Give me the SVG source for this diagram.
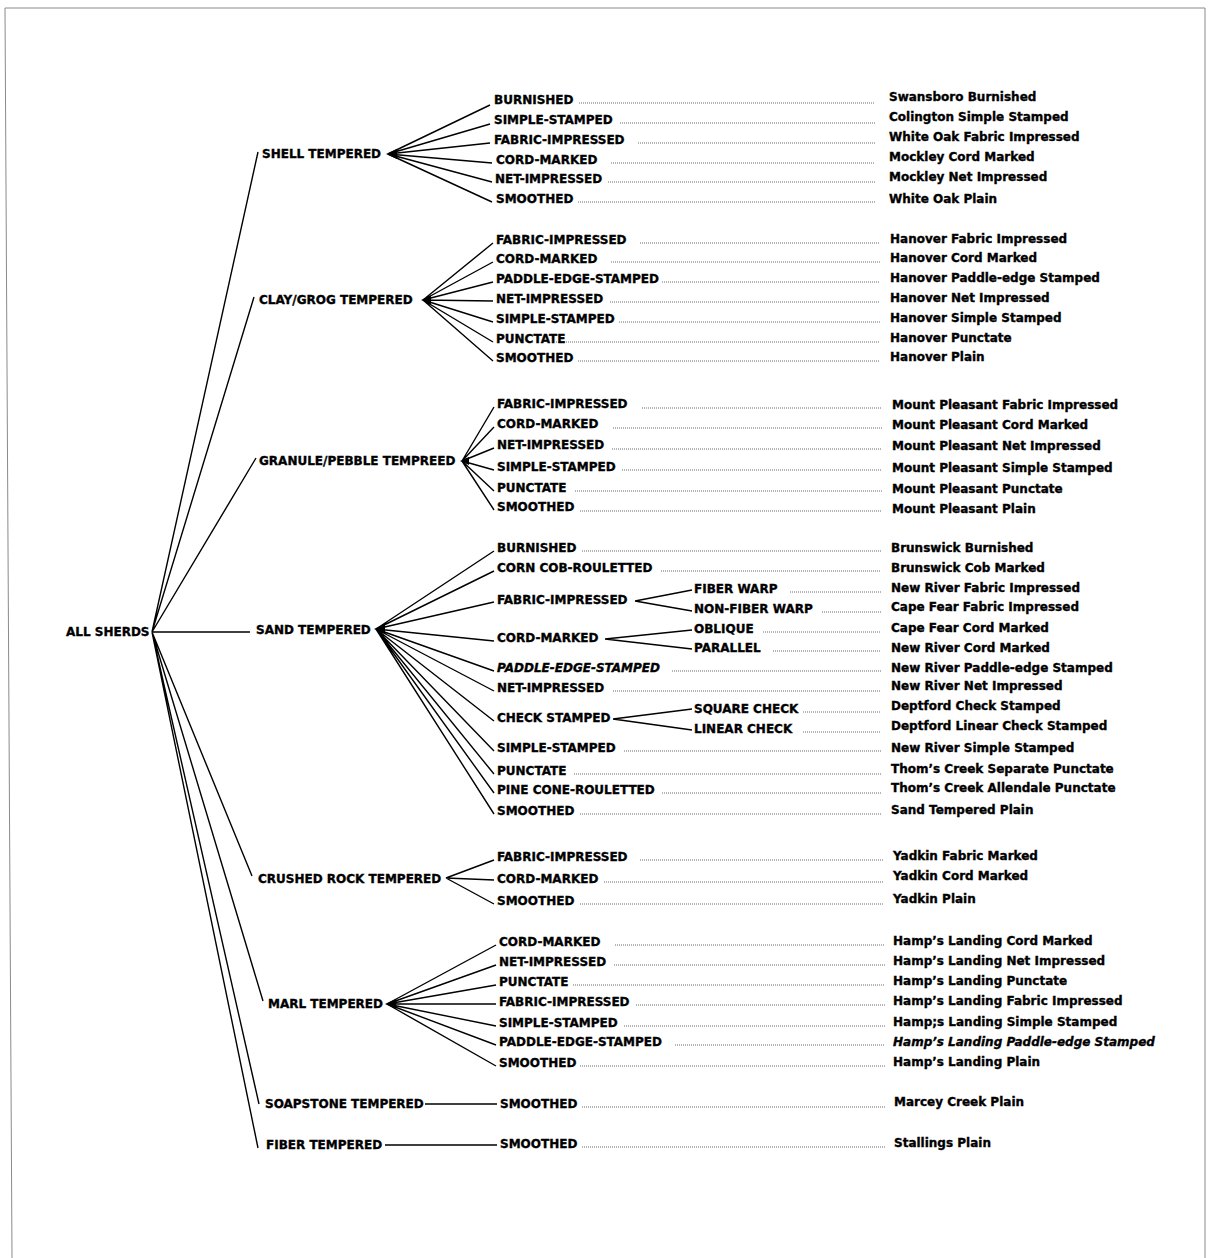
<svg xmlns="http://www.w3.org/2000/svg" width="1209" height="1258" viewBox="0 0 1209 1258">
<style>
text{font-family:"DejaVu Sans","Verdana",sans-serif;font-weight:bold;font-size:12px;fill:#000;stroke:#000;stroke-width:0.35}
.it{font-style:italic}
.ln{stroke:#000;stroke-width:1.4;fill:none}
.dot{stroke:#444;stroke-width:0.8;stroke-dasharray:1 1;fill:none}
.hub{fill:#000}
.frame{stroke:#8a8a8a;stroke-width:1;fill:none}
</style>
<rect width="1209" height="1258" fill="#fff"/>
<g id="frame">
<path class="frame" d="M5,8 L1205,8 M5,8 L12,1258 M1205,8 L1205,1258"/>
</g>
<g id="connectors">
<path class="ln" d="M152,632 L258,152 M152,632 L254,297 M152,632 L256,458 M152,632 L250,632 M152,632 L252,876 M152,632 L263,1001 M152,632 L259,1104 M152,632 L258,1148"/>
<path class="ln" d="M388,154 L490,105 M388,154 L490,124 M388,154 L490,143 M388,154 L492,163 M388,154 L492,182 M388,154 L492,202"/>
<path class="ln" d="M423,300 L493,243 M423,300 L493,262 M423,300 L493,282 M423,300 L493,301 M423,300 L493,322 M423,300 L493,342 M423,300 L493,361"/>
<path class="ln" d="M462,461 L494,407 M462,461 L494,427 M462,461 L494,448 M462,461 L494,470 M462,461 L494,491 M462,461 L494,510"/>
<path class="ln" d="M376,629 L494,551 M376,629 L494,571 M376,629 L494,602 M376,629 L494,641 M376,629 L494,671 M376,629 L494,691 M376,629 L494,721 M376,629 L494,751 M376,629 L494,774 M376,629 L494,793 M376,629 L494,814"/>
<path class="ln" d="M635,601 L692,590 M635,601 L692,611 M605,639 L692,630 M605,639 L692,649 M613,719 L692,709 M613,719 L692,730"/>
<path class="ln" d="M446,878 L494,860 M446,878 L494,880 M446,878 L494,904"/>
<path class="ln" d="M387,1004 L496,945 M387,1004 L496,965 M387,1004 L496,985 M387,1004 L496,1004 M387,1004 L496,1026 M387,1004 L496,1045 M387,1004 L496,1066"/>
<path class="ln" d="M425,1104 L497,1104 M385,1145 L497,1145"/>
<polygon class="hub" points="386,154 397,149 397,159"/>
<polygon class="hub" points="421,300 431,295.5 431,304.5"/>
<polygon class="hub" points="460,461 469,457 469,465"/>
<polygon class="hub" points="374,629 385,624 385,634"/>
<polygon class="hub" points="385,1004 396,999 396,1009"/>
<g id="leaders">
<path class="dot" d="M579,103 H875 M620,123 H875 M638,143 H875 M611,163 H875 M608,182 H875 M578,202 H875"/>
<path class="dot" d="M640,243 H880 M611,262 H880 M662,282 H880 M610,302 H880 M619,322 H880 M556,342 H880 M578,361 H880"/>
<path class="dot" d="M642,408 H882 M613,428 H882 M612,449 H882 M622,470 H882 M575,491 H882 M580,511 H882"/>
<path class="dot" d="M582,551 H881 M661,571 H881 M790,592 H881 M822,612 H881 M763,632 H881 M773,651 H881 M672,671 H881 M613,691 H881 M803,712 H881 M803,732 H881 M624,751 H881 M574,774 H881 M662,793 H881 M580,814 H881"/>
<path class="dot" d="M640,860 H883 M604,882 H883 M580,904 H883"/>
<path class="dot" d="M615,945 H885 M614,965 H885 M573,985 H885 M636,1005 H885 M624,1026 H885 M675,1045 H885 M580,1066 H885"/>
<path class="dot" d="M582,1107 H885 M582,1147 H885"/>
</g>
</g>
<g id="n-all"><text x="66" y="636">ALL SHERDS</text></g>
<g id="n-shell"><text x="262" y="158">SHELL TEMPERED</text></g>
<g id="n-clay"><text x="259" y="304">CLAY/GROG TEMPERED</text></g>
<g id="n-granule"><text x="259" y="465">GRANULE/PEBBLE TEMPREED</text></g>
<g id="n-sand"><text x="256" y="634">SAND TEMPERED</text></g>
<g id="n-crushed"><text x="258" y="883">CRUSHED ROCK TEMPERED</text></g>
<g id="n-marl"><text x="268" y="1008">MARL TEMPERED</text></g>
<g id="n-soapstone"><text x="265" y="1108">SOAPSTONE TEMPERED</text></g>
<g id="n-fiber"><text x="266" y="1149">FIBER TEMPERED</text></g>
<g id="shell-types">
<text x="494" y="104">BURNISHED</text>
<text x="494" y="124">SIMPLE-STAMPED</text>
<text x="494" y="144">FABRIC-IMPRESSED</text>
<text x="496" y="164">CORD-MARKED</text>
<text x="495" y="183">NET-IMPRESSED</text>
<text x="496" y="203">SMOOTHED</text>
</g>
<g id="shell-names">
<text x="889" y="101">Swansboro Burnished</text>
<text x="889" y="121">Colington Simple Stamped</text>
<text x="889" y="141">White Oak Fabric Impressed</text>
<text x="889" y="161">Mockley Cord Marked</text>
<text x="889" y="181">Mockley Net Impressed</text>
<text x="889" y="203">White Oak Plain</text>
</g>
<g id="clay-types">
<text x="496" y="244">FABRIC-IMPRESSED</text>
<text x="496" y="263">CORD-MARKED</text>
<text x="496" y="283">PADDLE-EDGE-STAMPED</text>
<text x="496" y="303">NET-IMPRESSED</text>
<text x="496" y="323">SIMPLE-STAMPED</text>
<text x="496" y="343">PUNCTATE</text>
<text x="496" y="362">SMOOTHED</text>
</g>
<g id="clay-names">
<text x="890" y="243">Hanover Fabric Impressed</text>
<text x="890" y="262">Hanover Cord Marked</text>
<text x="890" y="282">Hanover Paddle-edge Stamped</text>
<text x="890" y="302">Hanover Net Impressed</text>
<text x="890" y="322">Hanover Simple Stamped</text>
<text x="890" y="342">Hanover Punctate</text>
<text x="890" y="361">Hanover Plain</text>
</g>
<g id="granule-types">
<text x="497" y="408">FABRIC-IMPRESSED</text>
<text x="497" y="428">CORD-MARKED</text>
<text x="497" y="449">NET-IMPRESSED</text>
<text x="497" y="471">SIMPLE-STAMPED</text>
<text x="497" y="492">PUNCTATE</text>
<text x="497" y="511">SMOOTHED</text>
</g>
<g id="granule-names">
<text x="892" y="409">Mount Pleasant Fabric Impressed</text>
<text x="892" y="429">Mount Pleasant Cord Marked</text>
<text x="892" y="450">Mount Pleasant Net Impressed</text>
<text x="892" y="472">Mount Pleasant Simple Stamped</text>
<text x="892" y="493">Mount Pleasant Punctate</text>
<text x="892" y="513">Mount Pleasant Plain</text>
</g>
<g id="sand-types">
<text x="497" y="552">BURNISHED</text>
<text x="497" y="572">CORN COB-ROULETTED</text>
<text x="497" y="604">FABRIC-IMPRESSED</text>
<text x="497" y="642">CORD-MARKED</text>
<text x="497" y="672" class="it">PADDLE-EDGE-STAMPED</text>
<text x="497" y="692">NET-IMPRESSED</text>
<text x="497" y="722">CHECK STAMPED</text>
<text x="497" y="752">SIMPLE-STAMPED</text>
<text x="497" y="775">PUNCTATE</text>
<text x="497" y="794">PINE CONE-ROULETTED</text>
<text x="497" y="815">SMOOTHED</text>
</g>
<g id="sand-subtypes">
<text x="694" y="593">FIBER WARP</text>
<text x="694" y="613">NON-FIBER WARP</text>
<text x="694" y="633">OBLIQUE</text>
<text x="694" y="652">PARALLEL</text>
<text x="694" y="713">SQUARE CHECK</text>
<text x="694" y="733">LINEAR CHECK</text>
</g>
<g id="sand-names">
<text x="891" y="552">Brunswick Burnished</text>
<text x="891" y="572">Brunswick Cob Marked</text>
<text x="891" y="592">New River Fabric Impressed</text>
<text x="891" y="611">Cape Fear Fabric Impressed</text>
<text x="891" y="632">Cape Fear Cord Marked</text>
<text x="891" y="652">New River Cord Marked</text>
<text x="891" y="672">New River Paddle-edge Stamped</text>
<text x="891" y="690">New River Net Impressed</text>
<text x="891" y="710">Deptford Check Stamped</text>
<text x="891" y="730">Deptford Linear Check Stamped</text>
<text x="891" y="752">New River Simple Stamped</text>
<text x="891" y="773">Thom’s Creek Separate Punctate</text>
<text x="891" y="792">Thom’s Creek Allendale Punctate</text>
<text x="891" y="814">Sand Tempered Plain</text>
</g>
<g id="crushed-types">
<text x="497" y="861">FABRIC-IMPRESSED</text>
<text x="497" y="883">CORD-MARKED</text>
<text x="497" y="905">SMOOTHED</text>
</g>
<g id="crushed-names">
<text x="893" y="860">Yadkin Fabric Marked</text>
<text x="893" y="880">Yadkin Cord Marked</text>
<text x="893" y="903">Yadkin Plain</text>
</g>
<g id="marl-types">
<text x="499" y="946">CORD-MARKED</text>
<text x="499" y="966">NET-IMPRESSED</text>
<text x="499" y="986">PUNCTATE</text>
<text x="499" y="1006">FABRIC-IMPRESSED</text>
<text x="499" y="1027">SIMPLE-STAMPED</text>
<text x="499" y="1046">PADDLE-EDGE-STAMPED</text>
<text x="499" y="1067">SMOOTHED</text>
</g>
<g id="marl-names">
<text x="893" y="945">Hamp’s Landing Cord Marked</text>
<text x="893" y="965">Hamp’s Landing Net Impressed</text>
<text x="893" y="985">Hamp’s Landing Punctate</text>
<text x="893" y="1005">Hamp’s Landing Fabric Impressed</text>
<text x="893" y="1026">Hamp;s Landing Simple Stamped</text>
<text x="893" y="1046" class="it">Hamp’s Landing Paddle-edge Stamped</text>
<text x="893" y="1066">Hamp’s Landing Plain</text>
</g>
<g id="soapstone-types">
<text x="500" y="1108">SMOOTHED</text>
<text x="894" y="1106">Marcey Creek Plain</text>
</g>
<g id="fiber-types">
<text x="500" y="1148">SMOOTHED</text>
<text x="894" y="1147">Stallings Plain</text>
</g>
</svg>
